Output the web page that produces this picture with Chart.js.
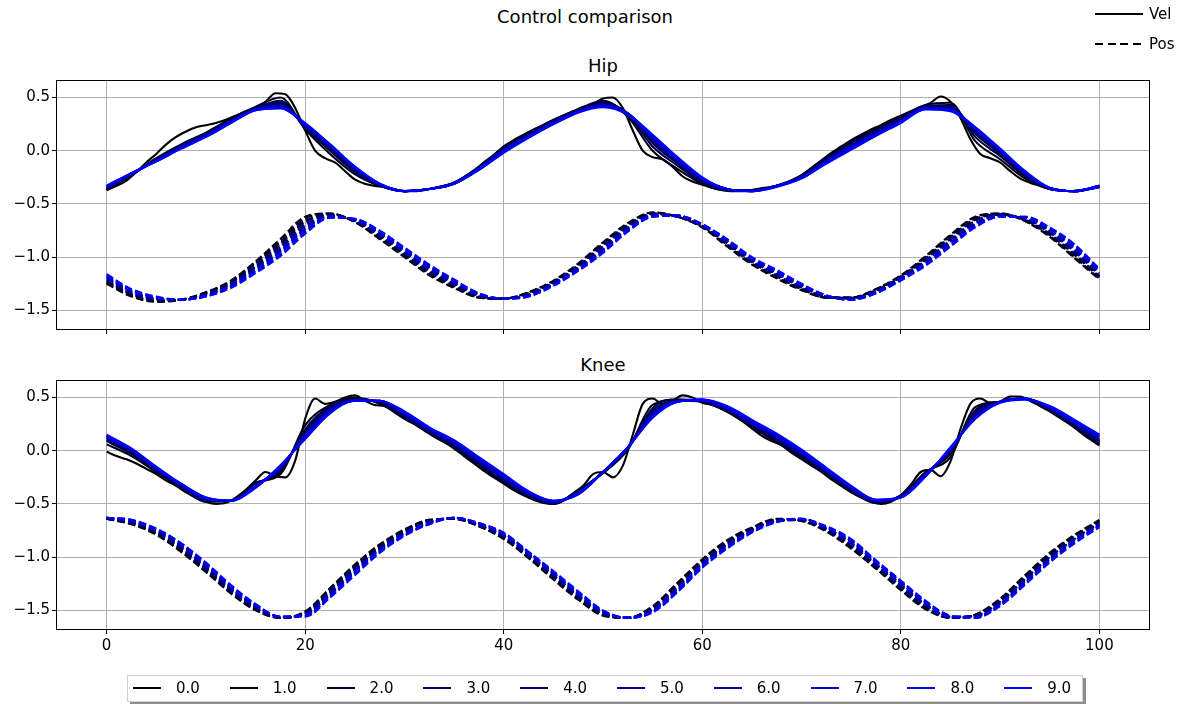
<!DOCTYPE html>
<html><head><meta charset="utf-8">
<script src="https://cdn.jsdelivr.net/npm/chart.js@4.4.1/dist/chart.umd.min.js"></script>
<style>
html,body{margin:0;padding:0;background:#fff;}
body{width:1182px;height:704px;position:relative;overflow:hidden;font-family:"DejaVu Sans",sans-serif;color:#000;}
.abs{position:absolute;}
.ttl{font-size:18px;line-height:18px;white-space:nowrap;transform:translateX(-50%);}
.lt{font-size:15px;line-height:16px;white-space:nowrap;}
</style></head>
<body>
<div class="abs ttl" style="left:585px;top:8px">Control comparison</div>
<div class="abs ttl" style="left:603px;top:57px">Hip</div>
<div class="abs ttl" style="left:603px;top:356px">Knee</div>
<div class="abs" style="left:0;top:0;width:1182px;height:340px"><canvas id="hip" width="1182" height="340"></canvas></div>
<div class="abs" style="left:0;top:340px;width:1182px;height:364px"><canvas id="knee" width="1182" height="364"></canvas></div>
<div class="abs" style="left:1095px;top:13px;width:48px;height:1.5px;background:#000"></div>
<div class="abs lt" style="left:1149px;top:6px">Vel</div>
<div class="abs" style="left:1095px;top:43px;width:48px;height:1.5px;background:repeating-linear-gradient(to right,#000 0 8px,transparent 8px 12.7px)"></div>
<div class="abs lt" style="left:1149px;top:36px">Pos</div>
<div id="leg" class="abs" style="left:127px;top:675px;width:954px;height:25px;border:1px solid #d0d0d0;background:#fff;box-shadow:3px 3px 0 #8e8e8e"></div>
<script>
const seriesNames = ['0.0','1.0','2.0','3.0','4.0','5.0','6.0','7.0','8.0','9.0'];
const seriesColors = ['rgb(0,0,0)','rgb(0,0,28)','rgb(0,0,57)','rgb(0,0,85)','rgb(0,0,113)','rgb(0,0,142)','rgb(0,0,170)','rgb(0,0,198)','rgb(0,0,227)','rgb(0,0,255)'];
const xTicks = [0,20,40,60,80,100];
const yTicks = [-1.5,-1.0,-0.5,0.0,0.5];
const xFine = [0,1,2,3,4,5,6,7,8,9,10,11,12,13,14,15,16,17,18,19,20,21,22,23,24,25,26,27,28,29,30,31,32,33,34,35,36,37,38,39,40,41,42,43,44,45,46,47,48,49,50,51,52,53,54,55,56,57,58,59,60,61,62,63,64,65,66,67,68,69,70,71,72,73,74,75,76,77,78,79,80,81,82,83,84,85,86,87,88,89,90,91,92,93,94,95,96,97,98,99,100];
const xCoarse = [0,2.5,5,7.5,10,12.5,15,17.5,20,22.5,25,27.5,30,32.5,35,37.5,40,42.5,45,47.5,50,52.5,55,57.5,60,62.5,65,67.5,70,72.5,75,77.5,80,82.5,85,87.5,90,92.5,95,97.5,100];

// Hip velocity, series 0.0 (fine sampling)
const hipVelBlack = [-0.37,-0.33,-0.28,-0.20,-0.11,-0.03,0.06,0.13,0.18,0.22,
0.24,0.26,0.29,0.33,0.37,0.41,0.46,0.54,0.53,0.40,
0.19,0.00,-0.07,-0.11,-0.19,-0.27,-0.31,-0.33,-0.34,-0.36,
-0.38,-0.38,-0.37,-0.35,-0.33,-0.30,-0.26,-0.19,-0.11,-0.04,
0.04,0.10,0.15,0.20,0.24,0.29,0.33,0.37,0.41,0.44,
0.49,0.50,0.40,0.19,0.00,-0.06,-0.08,-0.15,-0.24,-0.29,
-0.32,-0.35,-0.37,-0.38,-0.38,-0.37,-0.35,-0.34,-0.32,-0.29,
-0.23,-0.16,-0.09,-0.02,0.04,0.10,0.15,0.20,0.24,0.29,
0.33,0.37,0.41,0.45,0.51,0.46,0.31,0.11,-0.03,-0.07,
-0.11,-0.19,-0.26,-0.30,-0.33,-0.36,-0.37,-0.38,-0.37,-0.36,
-0.34];
// Hip velocity, series 1.0 .. 9.0 (coarse sampling)
const hipVelRest = [
[-0.37,-0.23,-0.07,0.06,0.17,0.30,0.41,0.50,0.20,-0.03,-0.22,-0.33,-0.38,-0.36,-0.30,-0.15,0.03,0.17,0.29,0.39,0.47,0.32,0.00,-0.17,-0.31,-0.37,-0.37,-0.33,-0.23,-0.06,0.09,0.21,0.32,0.43,0.45,0.09,-0.08,-0.26,-0.36,-0.38,-0.34],
[-0.36,-0.23,-0.08,0.05,0.16,0.29,0.40,0.47,0.21,0.00,-0.20,-0.33,-0.38,-0.36,-0.30,-0.16,0.03,0.16,0.28,0.38,0.46,0.34,0.04,-0.14,-0.30,-0.37,-0.37,-0.33,-0.24,-0.07,0.08,0.20,0.31,0.42,0.43,0.13,-0.05,-0.24,-0.36,-0.38,-0.34],
[-0.36,-0.23,-0.08,0.05,0.16,0.29,0.40,0.45,0.22,0.02,-0.19,-0.32,-0.38,-0.36,-0.30,-0.16,0.02,0.16,0.28,0.38,0.45,0.35,0.07,-0.12,-0.29,-0.37,-0.37,-0.33,-0.24,-0.08,0.07,0.19,0.30,0.42,0.42,0.16,-0.03,-0.23,-0.36,-0.38,-0.34],
[-0.35,-0.22,-0.09,0.04,0.15,0.28,0.40,0.44,0.23,0.03,-0.18,-0.32,-0.38,-0.36,-0.30,-0.16,0.01,0.15,0.27,0.38,0.44,0.35,0.09,-0.11,-0.28,-0.37,-0.37,-0.33,-0.24,-0.09,0.06,0.18,0.30,0.41,0.41,0.18,-0.02,-0.22,-0.35,-0.38,-0.34],
[-0.35,-0.22,-0.09,0.04,0.15,0.28,0.39,0.43,0.23,0.04,-0.17,-0.32,-0.38,-0.36,-0.31,-0.17,0.01,0.14,0.27,0.37,0.43,0.35,0.11,-0.10,-0.27,-0.36,-0.38,-0.33,-0.25,-0.09,0.05,0.17,0.29,0.41,0.40,0.19,-0.01,-0.21,-0.35,-0.38,-0.33],
[-0.34,-0.22,-0.09,0.03,0.14,0.27,0.39,0.42,0.24,0.05,-0.16,-0.32,-0.38,-0.36,-0.31,-0.17,0.00,0.14,0.26,0.37,0.43,0.35,0.12,-0.09,-0.27,-0.36,-0.38,-0.33,-0.25,-0.10,0.04,0.16,0.28,0.40,0.39,0.20,0.00,-0.21,-0.35,-0.38,-0.33],
[-0.34,-0.21,-0.10,0.03,0.14,0.27,0.39,0.41,0.25,0.05,-0.16,-0.31,-0.38,-0.36,-0.31,-0.17,0.00,0.13,0.26,0.37,0.42,0.35,0.13,-0.08,-0.26,-0.36,-0.38,-0.33,-0.25,-0.11,0.03,0.15,0.27,0.40,0.38,0.21,0.01,-0.20,-0.35,-0.38,-0.33],
[-0.33,-0.21,-0.10,0.02,0.13,0.26,0.38,0.40,0.25,0.06,-0.15,-0.31,-0.38,-0.36,-0.31,-0.18,-0.01,0.13,0.25,0.36,0.42,0.34,0.14,-0.07,-0.26,-0.36,-0.38,-0.33,-0.26,-0.11,0.02,0.15,0.27,0.39,0.38,0.22,0.01,-0.20,-0.35,-0.38,-0.33],
[-0.33,-0.21,-0.10,0.02,0.13,0.26,0.38,0.40,0.26,0.06,-0.15,-0.31,-0.38,-0.36,-0.31,-0.18,-0.02,0.12,0.25,0.36,0.41,0.34,0.15,-0.06,-0.25,-0.36,-0.38,-0.34,-0.26,-0.12,0.01,0.14,0.26,0.39,0.37,0.22,0.02,-0.19,-0.35,-0.38,-0.34]
];
// Hip position, series 0.0 .. 9.0 (coarse sampling)
const hipPos = [
[-1.25,-1.37,-1.42,-1.40,-1.33,-1.22,-1.04,-0.83,-0.62,-0.59,-0.67,-0.83,-1.00,-1.17,-1.29,-1.38,-1.39,-1.33,-1.22,-1.06,-0.86,-0.68,-0.58,-0.62,-0.72,-0.90,-1.07,-1.20,-1.31,-1.38,-1.38,-1.30,-1.17,-0.99,-0.79,-0.62,-0.59,-0.66,-0.81,-1.01,-1.21],
[-1.24,-1.36,-1.41,-1.40,-1.33,-1.23,-1.05,-0.85,-0.64,-0.59,-0.67,-0.82,-0.99,-1.16,-1.28,-1.38,-1.39,-1.33,-1.23,-1.07,-0.87,-0.69,-0.58,-0.62,-0.72,-0.89,-1.06,-1.19,-1.30,-1.38,-1.38,-1.30,-1.18,-1.00,-0.80,-0.63,-0.59,-0.66,-0.80,-1.00,-1.20],
[-1.23,-1.35,-1.41,-1.40,-1.34,-1.24,-1.06,-0.87,-0.66,-0.60,-0.66,-0.81,-0.98,-1.15,-1.27,-1.37,-1.39,-1.34,-1.23,-1.08,-0.88,-0.70,-0.59,-0.62,-0.71,-0.88,-1.05,-1.18,-1.30,-1.38,-1.38,-1.31,-1.18,-1.01,-0.81,-0.64,-0.60,-0.65,-0.79,-0.98,-1.19],
[-1.22,-1.35,-1.40,-1.40,-1.34,-1.24,-1.08,-0.88,-0.67,-0.60,-0.66,-0.80,-0.97,-1.14,-1.26,-1.37,-1.39,-1.34,-1.24,-1.08,-0.89,-0.71,-0.59,-0.62,-0.71,-0.88,-1.05,-1.17,-1.29,-1.37,-1.39,-1.31,-1.19,-1.02,-0.83,-0.65,-0.60,-0.65,-0.78,-0.97,-1.18],
[-1.21,-1.34,-1.40,-1.40,-1.35,-1.25,-1.09,-0.90,-0.69,-0.61,-0.66,-0.79,-0.96,-1.13,-1.25,-1.36,-1.39,-1.35,-1.24,-1.09,-0.90,-0.72,-0.60,-0.62,-0.71,-0.87,-1.04,-1.16,-1.28,-1.37,-1.39,-1.32,-1.19,-1.03,-0.84,-0.66,-0.60,-0.64,-0.77,-0.95,-1.17],
[-1.20,-1.33,-1.39,-1.40,-1.35,-1.26,-1.10,-0.92,-0.71,-0.61,-0.65,-0.79,-0.95,-1.11,-1.25,-1.36,-1.39,-1.35,-1.25,-1.10,-0.92,-0.72,-0.60,-0.61,-0.70,-0.86,-1.03,-1.16,-1.28,-1.37,-1.39,-1.32,-1.20,-1.04,-0.85,-0.68,-0.61,-0.64,-0.76,-0.94,-1.15],
[-1.19,-1.32,-1.39,-1.40,-1.36,-1.27,-1.11,-0.94,-0.73,-0.62,-0.65,-0.78,-0.94,-1.10,-1.24,-1.35,-1.39,-1.36,-1.25,-1.11,-0.93,-0.73,-0.61,-0.61,-0.70,-0.85,-1.02,-1.15,-1.27,-1.37,-1.39,-1.33,-1.20,-1.05,-0.86,-0.69,-0.61,-0.63,-0.75,-0.92,-1.14],
[-1.18,-1.32,-1.38,-1.40,-1.36,-1.27,-1.13,-0.95,-0.74,-0.62,-0.65,-0.77,-0.93,-1.09,-1.23,-1.35,-1.39,-1.36,-1.26,-1.11,-0.94,-0.74,-0.61,-0.61,-0.70,-0.85,-1.02,-1.14,-1.26,-1.36,-1.40,-1.33,-1.21,-1.06,-0.88,-0.70,-0.61,-0.63,-0.74,-0.91,-1.13],
[-1.17,-1.31,-1.38,-1.40,-1.37,-1.28,-1.14,-0.97,-0.76,-0.63,-0.64,-0.76,-0.92,-1.08,-1.22,-1.34,-1.39,-1.37,-1.26,-1.12,-0.95,-0.75,-0.62,-0.61,-0.69,-0.84,-1.01,-1.13,-1.26,-1.36,-1.40,-1.34,-1.21,-1.07,-0.89,-0.71,-0.62,-0.62,-0.73,-0.89,-1.12],
[-1.16,-1.30,-1.37,-1.40,-1.37,-1.29,-1.15,-0.99,-0.78,-0.63,-0.64,-0.75,-0.91,-1.07,-1.21,-1.34,-1.39,-1.37,-1.27,-1.13,-0.96,-0.76,-0.62,-0.61,-0.69,-0.83,-1.00,-1.12,-1.25,-1.36,-1.40,-1.34,-1.22,-1.08,-0.90,-0.72,-0.62,-0.62,-0.72,-0.88,-1.11]
];
// Knee velocity, series 0.0 (fine sampling)
const kneeVelBlack = [-0.01,-0.05,-0.08,-0.12,-0.17,-0.22,-0.28,-0.33,-0.39,-0.44,
-0.48,-0.50,-0.49,-0.44,-0.37,-0.28,-0.20,-0.24,-0.25,-0.09,
0.30,0.49,0.44,0.46,0.50,0.52,0.47,0.43,0.42,0.36,
0.30,0.25,0.19,0.13,0.08,0.02,-0.05,-0.12,-0.19,-0.25,
-0.31,-0.37,-0.42,-0.46,-0.49,-0.50,-0.47,-0.40,-0.33,-0.22,
-0.20,-0.25,-0.14,0.15,0.44,0.49,0.44,0.47,0.52,0.50,
0.45,0.43,0.39,0.34,0.28,0.21,0.14,0.09,0.05,-0.02,
-0.08,-0.14,-0.20,-0.27,-0.33,-0.39,-0.44,-0.48,-0.50,-0.48,
-0.42,-0.32,-0.20,-0.18,-0.24,-0.10,0.20,0.44,0.49,0.45,
0.46,0.51,0.51,0.47,0.42,0.37,0.31,0.25,0.18,0.11,
0.05];
// Knee velocity, series 1.0 .. 9.0 (coarse sampling)
const kneeVelRest = [
[0.06,-0.05,-0.20,-0.35,-0.48,-0.47,-0.30,-0.22,0.24,0.43,0.50,0.44,0.31,0.17,0.03,-0.14,-0.30,-0.43,-0.50,-0.37,-0.21,0.01,0.43,0.48,0.46,0.37,0.22,0.08,-0.07,-0.22,-0.38,-0.49,-0.42,-0.20,-0.06,0.41,0.46,0.49,0.38,0.22,0.06],
[0.09,-0.03,-0.19,-0.34,-0.47,-0.47,-0.31,-0.20,0.20,0.42,0.49,0.45,0.32,0.17,0.04,-0.13,-0.29,-0.43,-0.49,-0.38,-0.21,0.02,0.40,0.48,0.46,0.37,0.23,0.09,-0.06,-0.21,-0.38,-0.48,-0.42,-0.21,-0.03,0.38,0.46,0.49,0.38,0.23,0.07],
[0.10,-0.02,-0.18,-0.34,-0.47,-0.47,-0.32,-0.18,0.18,0.41,0.48,0.46,0.32,0.18,0.05,-0.12,-0.28,-0.42,-0.49,-0.38,-0.20,0.03,0.38,0.47,0.46,0.38,0.24,0.10,-0.05,-0.21,-0.37,-0.48,-0.43,-0.21,-0.01,0.36,0.46,0.49,0.39,0.24,0.08],
[0.11,-0.01,-0.18,-0.33,-0.46,-0.47,-0.32,-0.17,0.16,0.40,0.48,0.46,0.33,0.19,0.06,-0.11,-0.27,-0.41,-0.49,-0.39,-0.20,0.03,0.36,0.47,0.47,0.39,0.25,0.11,-0.04,-0.20,-0.36,-0.48,-0.43,-0.22,0.00,0.34,0.46,0.49,0.39,0.25,0.09],
[0.12,0.00,-0.17,-0.33,-0.46,-0.47,-0.33,-0.16,0.15,0.39,0.47,0.47,0.34,0.19,0.06,-0.10,-0.26,-0.41,-0.48,-0.39,-0.20,0.03,0.35,0.47,0.47,0.39,0.25,0.12,-0.03,-0.19,-0.36,-0.47,-0.43,-0.22,0.01,0.33,0.46,0.49,0.40,0.25,0.10],
[0.13,0.00,-0.17,-0.32,-0.45,-0.47,-0.33,-0.15,0.14,0.38,0.47,0.47,0.35,0.20,0.07,-0.09,-0.25,-0.40,-0.48,-0.40,-0.20,0.03,0.34,0.47,0.47,0.40,0.26,0.13,-0.02,-0.18,-0.35,-0.47,-0.43,-0.23,0.02,0.32,0.46,0.49,0.40,0.26,0.11],
[0.14,0.01,-0.16,-0.32,-0.45,-0.47,-0.34,-0.15,0.13,0.37,0.47,0.47,0.35,0.21,0.08,-0.08,-0.24,-0.39,-0.48,-0.40,-0.20,0.03,0.33,0.46,0.48,0.41,0.27,0.14,-0.01,-0.18,-0.34,-0.47,-0.44,-0.23,0.02,0.31,0.46,0.49,0.41,0.27,0.13],
[0.14,0.02,-0.16,-0.31,-0.44,-0.47,-0.34,-0.14,0.12,0.36,0.47,0.47,0.36,0.21,0.09,-0.07,-0.23,-0.39,-0.47,-0.41,-0.20,0.03,0.32,0.46,0.48,0.41,0.28,0.15,0.00,-0.17,-0.34,-0.46,-0.44,-0.24,0.03,0.30,0.46,0.49,0.41,0.28,0.14],
[0.15,0.02,-0.15,-0.31,-0.44,-0.47,-0.35,-0.14,0.11,0.35,0.47,0.47,0.37,0.22,0.10,-0.06,-0.22,-0.38,-0.47,-0.41,-0.20,0.03,0.31,0.46,0.48,0.42,0.29,0.16,0.01,-0.16,-0.33,-0.46,-0.44,-0.24,0.03,0.30,0.45,0.48,0.42,0.29,0.15]
];
// Knee position, series 0.0 .. 9.0 (coarse sampling)
const kneePos = [
[-0.64,-0.69,-0.79,-0.95,-1.14,-1.34,-1.50,-1.57,-1.51,-1.29,-1.07,-0.88,-0.74,-0.65,-0.64,-0.71,-0.83,-1.01,-1.21,-1.40,-1.55,-1.57,-1.46,-1.24,-1.02,-0.84,-0.72,-0.64,-0.66,-0.76,-0.92,-1.11,-1.31,-1.49,-1.57,-1.54,-1.39,-1.17,-0.96,-0.79,-0.65],
[-0.64,-0.69,-0.78,-0.94,-1.13,-1.33,-1.49,-1.57,-1.52,-1.30,-1.08,-0.89,-0.75,-0.65,-0.64,-0.71,-0.82,-1.00,-1.20,-1.39,-1.54,-1.57,-1.47,-1.25,-1.03,-0.85,-0.73,-0.65,-0.66,-0.75,-0.91,-1.10,-1.30,-1.48,-1.57,-1.54,-1.40,-1.18,-0.97,-0.80,-0.66],
[-0.64,-0.68,-0.78,-0.93,-1.12,-1.32,-1.49,-1.57,-1.52,-1.31,-1.09,-0.90,-0.75,-0.66,-0.64,-0.70,-0.82,-1.00,-1.19,-1.38,-1.54,-1.57,-1.47,-1.26,-1.04,-0.86,-0.73,-0.65,-0.65,-0.75,-0.90,-1.09,-1.29,-1.47,-1.57,-1.55,-1.41,-1.19,-0.98,-0.81,-0.67],
[-0.64,-0.68,-0.77,-0.92,-1.11,-1.31,-1.48,-1.57,-1.53,-1.32,-1.10,-0.91,-0.76,-0.66,-0.64,-0.70,-0.81,-0.99,-1.18,-1.37,-1.53,-1.57,-1.48,-1.27,-1.05,-0.87,-0.74,-0.65,-0.65,-0.74,-0.89,-1.08,-1.28,-1.46,-1.57,-1.55,-1.41,-1.20,-0.99,-0.82,-0.67],
[-0.64,-0.67,-0.76,-0.91,-1.10,-1.30,-1.47,-1.57,-1.53,-1.33,-1.11,-0.92,-0.77,-0.67,-0.64,-0.70,-0.80,-0.98,-1.17,-1.36,-1.53,-1.57,-1.49,-1.28,-1.06,-0.88,-0.74,-0.66,-0.65,-0.74,-0.88,-1.07,-1.27,-1.45,-1.56,-1.55,-1.42,-1.21,-1.00,-0.83,-0.68],
[-0.63,-0.67,-0.76,-0.90,-1.09,-1.30,-1.47,-1.56,-1.54,-1.34,-1.12,-0.92,-0.77,-0.67,-0.63,-0.69,-0.80,-0.97,-1.16,-1.36,-1.52,-1.57,-1.49,-1.29,-1.06,-0.88,-0.75,-0.66,-0.65,-0.73,-0.87,-1.07,-1.26,-1.45,-1.56,-1.56,-1.43,-1.22,-1.01,-0.83,-0.69],
[-0.63,-0.66,-0.75,-0.89,-1.08,-1.29,-1.46,-1.56,-1.54,-1.35,-1.13,-0.93,-0.78,-0.68,-0.63,-0.69,-0.79,-0.97,-1.15,-1.35,-1.52,-1.57,-1.50,-1.30,-1.07,-0.89,-0.75,-0.66,-0.65,-0.73,-0.86,-1.06,-1.25,-1.44,-1.56,-1.56,-1.44,-1.23,-1.02,-0.84,-0.70],
[-0.63,-0.66,-0.74,-0.88,-1.07,-1.28,-1.45,-1.56,-1.55,-1.36,-1.14,-0.94,-0.79,-0.68,-0.63,-0.69,-0.78,-0.96,-1.15,-1.34,-1.51,-1.57,-1.51,-1.31,-1.08,-0.90,-0.76,-0.66,-0.64,-0.72,-0.85,-1.05,-1.24,-1.43,-1.56,-1.56,-1.44,-1.24,-1.03,-0.85,-0.70],
[-0.63,-0.65,-0.74,-0.87,-1.06,-1.27,-1.45,-1.56,-1.55,-1.37,-1.15,-0.95,-0.79,-0.69,-0.63,-0.68,-0.78,-0.95,-1.14,-1.33,-1.51,-1.57,-1.51,-1.32,-1.09,-0.91,-0.76,-0.67,-0.64,-0.72,-0.84,-1.04,-1.23,-1.42,-1.56,-1.57,-1.45,-1.25,-1.04,-0.86,-0.71],
[-0.63,-0.65,-0.73,-0.87,-1.05,-1.26,-1.44,-1.56,-1.56,-1.38,-1.17,-0.96,-0.80,-0.69,-0.63,-0.68,-0.77,-0.95,-1.13,-1.32,-1.50,-1.57,-1.52,-1.33,-1.10,-0.92,-0.77,-0.67,-0.64,-0.71,-0.83,-1.03,-1.22,-1.41,-1.55,-1.57,-1.46,-1.26,-1.05,-0.87,-0.72]
];

function pts(xs, ys){ return ys.map((y,j)=>({x: xs[j], y})); }
function buildDatasets(velBlack, velRest, pos){
  const ds = [];
  for (let i = 0; i < 10; i++) {
    const vel = i === 0 ? pts(xFine, velBlack) : pts(xCoarse, velRest[i-1]);
    ds.push({label: seriesNames[i]+' Vel', data: vel, borderColor: seriesColors[i], borderWidth: 2.1, order: 9 - i});
    ds.push({label: seriesNames[i]+' Pos', data: pts(xCoarse, pos[i]), borderColor: seriesColors[i], borderWidth: 2.1, borderDash: [7.6, 3.3], order: 9 - i});
  }
  return ds;
}
const framePlugin = {id:'frame', afterDraw(c){
  const a = c.chartArea, ctx = c.ctx;
  ctx.save(); ctx.strokeStyle = '#000'; ctx.lineWidth = 1;
  ctx.strokeRect(a.left - 0.5, a.top - 0.5, a.right - a.left + 1, a.bottom - a.top + 1);
  ctx.restore();
}};
Chart.defaults.font.family = '"DejaVu Sans", sans-serif';
Chart.defaults.font.size = 15;
Chart.defaults.color = '#000';
function makeOptions(showX, padTop, padBottom, xH){
  const grid = {color:'#b0b0b0', lineWidth:1, tickColor:'#000', tickLength:5, tickWidth:1};
  return {
    responsive:false, animation:false, devicePixelRatio:1,
    layout:{padding:{left:0, right:33, top:padTop, bottom:padBottom}},
    plugins:{legend:{display:false}, tooltip:{enabled:false}, title:{display:false}},
    elements:{point:{radius:0}, line:{cubicInterpolationMode:'monotone', borderCapStyle:'butt', fill:false}},
    scales:{
      x:{type:'linear', min:-5, max:105,
         afterBuildTicks: s => { s.ticks = xTicks.map(v => ({value:v})); },
         afterFit: s => { s.height = xH; },
         grid: grid, border:{display:false},
         ticks:{display:showX, padding:3, maxRotation:0, autoSkip:false, callback: v => String(v)}},
      y:{type:'linear', min:-1.675, max:0.655,
         afterBuildTicks: s => { s.ticks = yTicks.map(v => ({value:v})); },
         afterFit: s => { s.width = 57; },
         grid: grid, border:{display:false},
         ticks:{padding:2, autoSkip:false, callback: v => Number(v).toFixed(1).replace('-', '\u2212')}}
    }
  };
}
new Chart(document.getElementById('hip'), {type:'line', data:{datasets: buildDatasets(hipVelBlack, hipVelRest, hipPos)}, options: makeOptions(false, 81, 0, 10), plugins:[framePlugin]});
new Chart(document.getElementById('knee'), {type:'line', data:{datasets: buildDatasets(kneeVelBlack, kneeVelRest, kneePos)}, options: makeOptions(true, 41, 45, 30), plugins:[framePlugin]});

// bottom legend
for (let i = 0; i < 10; i++) {
  const ln = document.createElement('div');
  ln.className = 'abs';
  ln.style.cssText = `left:${133 + i*96.8}px;top:687px;width:28px;height:2px;background:${seriesColors[i]}`;
  document.body.appendChild(ln);
  const tx = document.createElement('div');
  tx.className = 'abs lt';
  tx.style.cssText = `left:${176 + i*96.8}px;top:680px`;
  tx.textContent = seriesNames[i];
  document.body.appendChild(tx);
}
</script>
</body></html>
